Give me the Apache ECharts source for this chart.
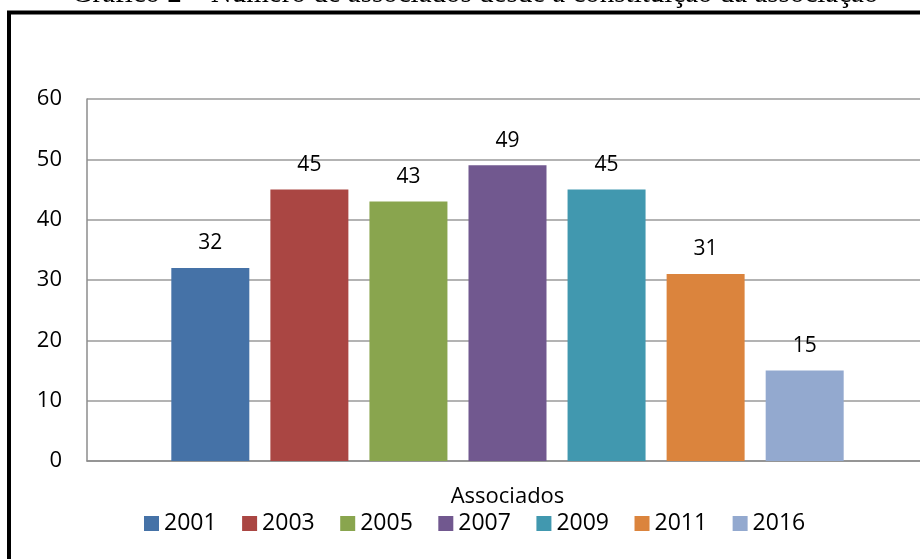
<!DOCTYPE html>
<html>
<head>
<meta charset="utf-8">
<script src="https://cdn.jsdelivr.net/npm/echarts@6/dist/echarts.min.js"></script>
<style>
  html, body { margin: 0; padding: 0; background: #fff; }
  #chart { width: 920px; height: 559px; }
</style>
</head>
<body>
<div id="chart"></div>
<script>
// Membership count by year since the association was founded
const category = ['Associados'];
const years = ['2001', '2003', '2005', '2007', '2009', '2011', '2016'];
const members = [32, 45, 43, 49, 45, 31, 15];
const yTicks = { min: 0, max: 60, interval: 10 };
const palette = ['#4572A7', '#AA4643', '#89A54E', '#71588F', '#4198AF', '#DB843D', '#93A9CF'];
const titleText = 'Gráfico 2 – Número de associados desde a constituição da associação';

const font = '"Open Sans", "Liberation Sans", sans-serif';

const series = years.map((yr, i) => ({
  name: yr,
  type: 'bar',
  data: [members[i]],
  barWidth: 78,
  barGap: '27%',
  itemStyle: { color: palette[i] },
  label: {
    show: true,
    position: 'top',
    distance: 14,
    color: '#000',
    fontFamily: font,
    fontSize: 21
  }
}));

const chart = echarts.init(document.getElementById('chart'), null, { renderer: 'canvas' });
chart.setOption({
  animation: false,
  backgroundColor: '#fff',
  color: palette,
  // plot area runs past the right edge of the canvas
  grid: { left: 87, width: 841, top: 99, bottom: 98, containLabel: false, outerBoundsMode: 'none' },
  xAxis: {
    type: 'category',
    data: category,
    axisLine: { show: true, lineStyle: { color: '#8c8c8c', width: 1.5 } },
    axisTick: { show: false },
    axisLabel: { color: '#000', fontFamily: font, fontSize: 22, margin: 25 }
  },
  yAxis: {
    type: 'value',
    min: yTicks.min,
    max: yTicks.max,
    interval: yTicks.interval,
    axisLine: { show: true, lineStyle: { color: '#8c8c8c', width: 1.5 } },
    axisTick: { show: false },
    axisLabel: { color: '#000', fontFamily: font, fontSize: 22, margin: 25 },
    splitLine: { show: true, lineStyle: { color: '#9a9a9a', width: 1.5 } }
  },
  legend: {
    data: years,
    left: 144,
    top: 512,
    padding: 0,
    icon: 'rect',
    itemWidth: 15,
    itemHeight: 15,
    itemGap: 25.5,
    textStyle: { color: '#000', fontFamily: font, fontSize: 23 }
  },
  graphic: [
    {
      type: 'rect',
      shape: { x: 9, y: 12.5, width: 1000, height: 1000 },
      style: { fill: 'none', stroke: '#000', lineWidth: 4 },
      z: 10
    },
    {
      type: 'text',
      style: {
        x: 475,
        y: -6,
        text: titleText,
        font: '29px "Liberation Serif", "Times New Roman", serif',
        fill: '#000',
        textAlign: 'center',
        textVerticalAlign: 'middle'
      },
      z: 10
    }
  ],
  series: series
});
</script>
</body>
</html>
